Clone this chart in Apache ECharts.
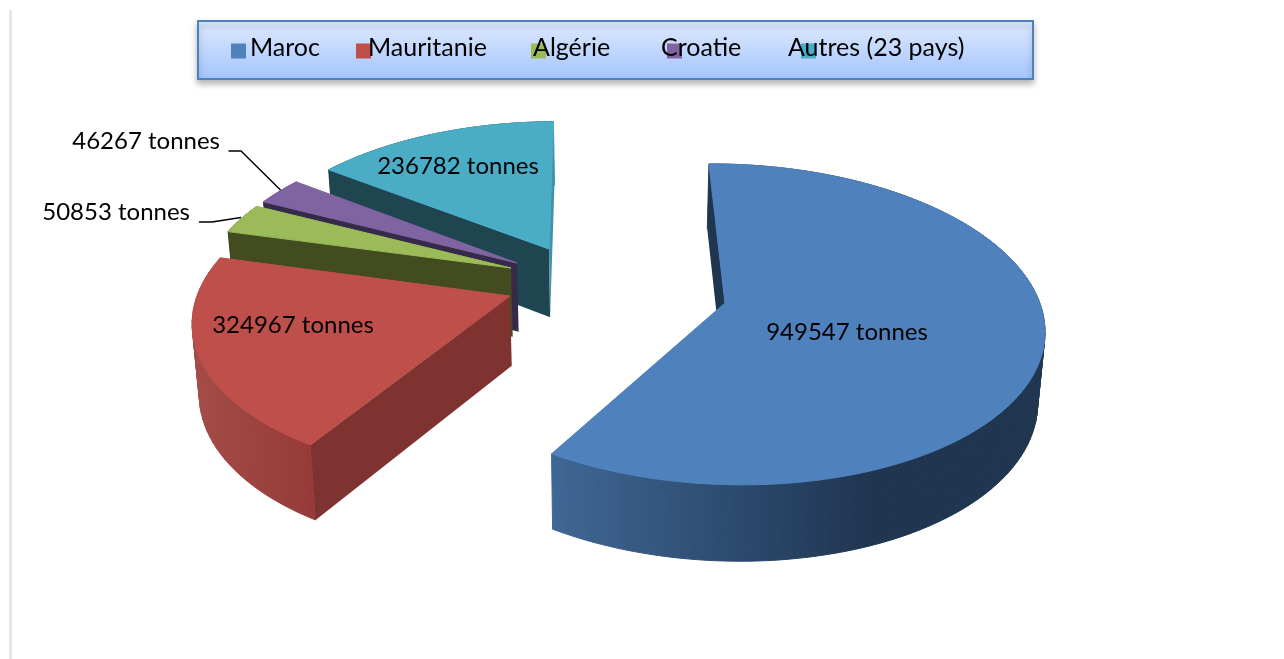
<!DOCTYPE html>
<html>
<head>
<meta charset="utf-8">
<style>html,body{margin:0;padding:0;background:#fff}#chart{width:1284px;height:659px}</style>
<script src="https://cdn.jsdelivr.net/npm/echarts@6/dist/echarts.min.js"></script>
</head>
<body>
<div id="chart"></div>
<script>
// data
const countries = ['Maroc', 'Mauritanie', 'Algérie', 'Croatie', 'Autres (23 pays)'];
const tonnes = [949547, 324967, 50853, 46267, 236782];
const unit = ' tonnes';

// styles, per slice
const topColors = ['#4f81bd', '#be4f4b', '#9bbb59', '#8064a2', '#4bacc6'];
const cutColors = ['#1f3550', '#7f3331', '#434b20', '#362a4a', '#1e4550'];
const endCutColors = ['#1f3550', '#7f3331', '#434b20', '#362a4a', '#3f93a9'];
const rimColors = [
    [[0, '#3f6795'], [0.65, '#1f3550'], [1, '#1f3550']],
    [[0, '#a54c47'], [1, '#953a38']],
    [[0, '#434b20'], [1, '#434b20']],
    [[0, '#362a4a'], [1, '#362a4a']],
    [[0, '#1e4550'], [0.98, '#1e4550'], [0.985, '#3f93a9'], [1, '#3f93a9']]
];

// layout: tilted disc seen in perspective, each slice pulled out of the centre
const view = { cx: 613, cy: 300, rx: 314, ry: 156.8, k: 0.133, depth: 70, shrink: 0.017 };
const startAngle = -0.6;
const sliceCenters = [[725, 303], [510, 296], [511, 268], [517, 263], [549, 249]];
const labelPos = [[847, 332, 'center'], [293, 325, 'center'], [190, 212, 'right'], [220, 141, 'right'], [458, 166, 'center']];
const leaders = [null, null, [[199, 222], [212, 222], [241, 217.5]], [[228.5, 151], [241, 151], [280.5, 190]], null];
const drawOrder = [4, 3, 2, 1, 0]; // z per slice, back to front
const legendIcons = [231, 356, 531, 667, 801];
const legendTexts = [250, 368, 533, 661, 788];

function project(U, V, z) {
    let f = 1 / (1 - view.k * V);
    return [
        view.cx + view.rx * U * f * (1 - z * view.shrink),
        view.cy + view.ry * V * f + z * view.depth * Math.pow(f, 0.6)
    ];
}

function sliceOrigin(i) {
    let dy = sliceCenters[i][1] - view.cy;
    let V = dy / (view.ry + view.k * dy);
    let U = (sliceCenters[i][0] - view.cx) * (1 - view.k * V) / view.rx;
    return [U, V];
}

function signedArea(pts) {
    let a = 0;
    pts.forEach((p, n) => {
        let q = pts[(n + 1) % pts.length];
        a += p[0] * q[1] - q[0] * p[1];
    });
    return a / 2;
}

const total = tonnes.reduce((a, b) => a + b, 0);

function renderSlice(i, api) {
    let before = tonnes.slice(0, i).reduce((a, b) => a + b, 0);
    let a0 = startAngle + before / total * 360;
    let a1 = a0 + api.value(0) / total * 360;
    let o = sliceOrigin(i);
    let rimTop = [], rimBottom = [];
    let steps = Math.max(2, Math.ceil((a1 - a0) / 2));
    for (let s = 0; s <= steps; s++) {
        let t = (a0 + (a1 - a0) * s / steps) * Math.PI / 180;
        let U = o[0] + Math.sin(t), V = o[1] - Math.cos(t);
        rimTop.push(project(U, V, 0));
        rimBottom.push(project(U, V, 1));
    }
    let apexTop = project(o[0], o[1], 0), apexBottom = project(o[0], o[1], 1);

    // the rim goes in small quads so the silhouette stays closed at the far left and right
    let xs = rimTop.concat(rimBottom).map((p) => p[0]);
    let rimFill = new echarts.graphic.LinearGradient(Math.min(...xs), 0, Math.max(...xs), 0,
        rimColors[i].map((c) => ({ offset: c[0], color: c[1] })), true);
    let children = [];
    for (let s = 0; s < steps; s++) {
        children.push({
            type: 'polygon',
            shape: { points: [rimTop[s], rimTop[s + 1], rimBottom[s + 1], rimBottom[s]] },
            style: { fill: rimFill, stroke: rimFill, lineWidth: 1 },
            silent: true
        });
    }
    // cut faces, skipped when they turn away from the camera
    let startCut = [apexTop, rimTop[0], rimBottom[0], apexBottom];
    let endCut = [apexTop, rimTop[steps], rimBottom[steps], apexBottom];
    if (signedArea(startCut) < 0) {
        children.push({ type: 'polygon', shape: { points: startCut }, style: { fill: cutColors[i] }, silent: true });
    }
    if (signedArea(endCut) > 0) {
        children.push({ type: 'polygon', shape: { points: endCut }, style: { fill: endCutColors[i] }, silent: true });
    }
    children.push({
        type: 'polygon',
        shape: { points: [apexTop].concat(rimTop) },
        style: { fill: topColors[i], stroke: topColors[i], lineWidth: 1 },
        silent: true
    });
    if (leaders[i]) {
        children.push({ type: 'polyline', shape: { points: leaders[i] }, style: { stroke: '#000', lineWidth: 1.4, fill: null }, silent: true });
    }
    children.push({
        type: 'text',
        style: {
            x: labelPos[i][0], y: labelPos[i][1], text: api.value(0) + unit, align: labelPos[i][2], verticalAlign: 'middle',
            font: '24px Lato', fill: '#000'
        },
        silent: true
    });
    return { type: 'group', children: children };
}

let chart = echarts.init(document.getElementById('chart'), null, { renderer: 'canvas' });

let series = countries.map((name, i) => ({
    type: 'custom',
    name: name,
    coordinateSystem: 'none',
    z: 2 + drawOrder[i],
    silent: true,
    animation: false,
    itemStyle: { color: topColors[i] },
    renderItem: (params, api) => renderSlice(i, api),
    data: [[tonnes[i]]]
}));

let legends = countries.map((name, i) => ({
    data: [name],
    left: Math.min(legendIcons[i], legendTexts[i]),
    top: 35,
    padding: 0,
    itemWidth: 15,
    itemHeight: 15,
    icon: 'rect',
    selectedMode: false,
    z: 10,
    formatter: (n) => '{t|' + n + '}',
    textStyle: {
        padding: [0, 0, 0, legendTexts[i] - legendIcons[i] - 20],
        rich: {
            t: { fontFamily: 'Lato', fontSize: 25, color: '#000', padding: [0, 0, 7, 0] }
        }
    }
}));

chart.setOption({
    backgroundColor: '#fff',
    animation: false,
    legend: legends,
    graphic: [
        { type: 'rect', shape: { x: 9, y: 10, width: 3, height: 649 }, style: { fill: '#e6e6e6' }, silent: true, z: 0 },
        {
            type: 'rect',
            shape: { x: 198, y: 21, width: 835, height: 58 },
            style: {
                fill: new echarts.graphic.LinearGradient(0, 0, 0, 1, [
                    { offset: 0, color: '#dfeafe' },
                    { offset: 1, color: '#a3c4fb' }
                ]),
                stroke: '#4f81bd',
                lineWidth: 2,
                shadowBlur: 6,
                shadowOffsetY: 4,
                shadowColor: 'rgba(0,0,0,0.27)'
            },
            silent: true,
            z: 1
        }
    ],
    series: series
});
</script>
</body>
</html>
